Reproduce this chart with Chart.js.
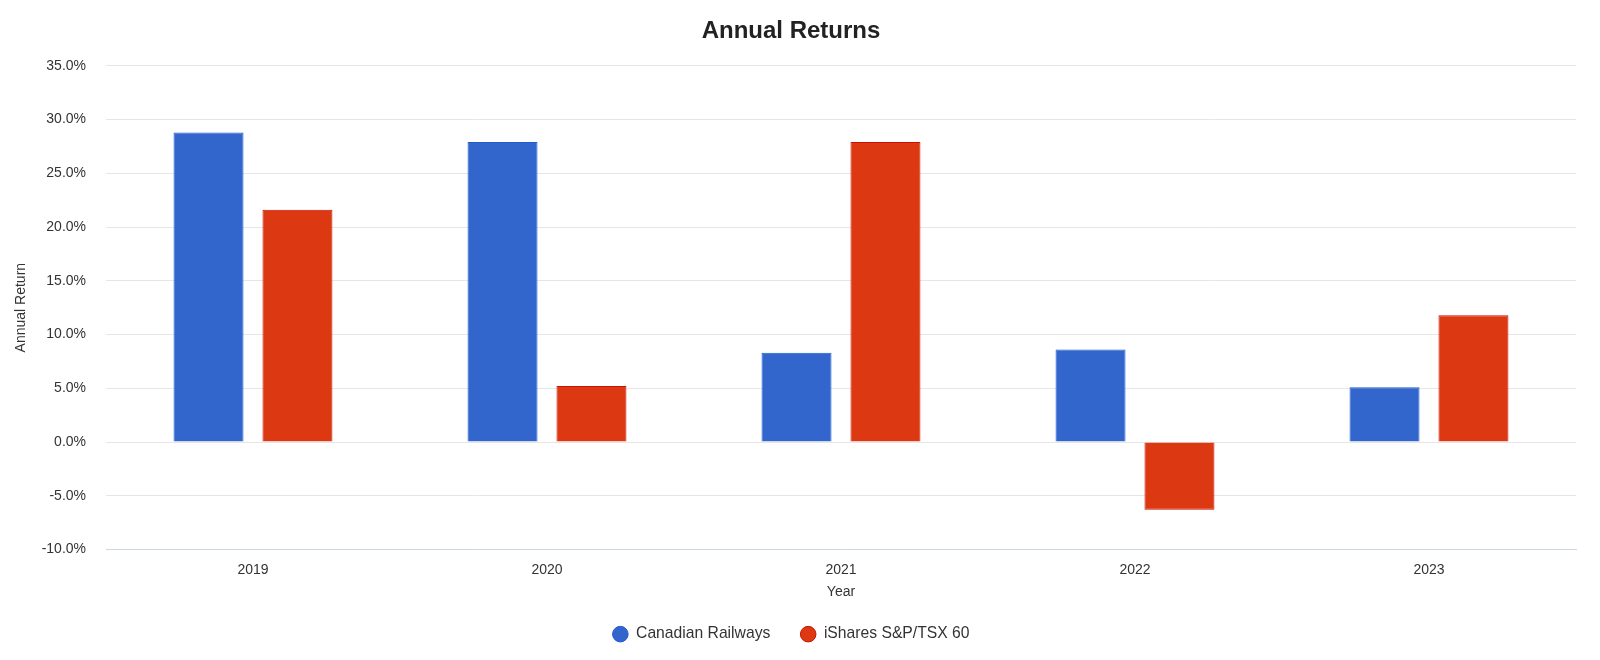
<!DOCTYPE html>
<html>
<head>
<meta charset="utf-8">
<script src="https://cdn.jsdelivr.net/npm/chart.js@4"></script>
<style>
  html, body { margin: 0; padding: 0; background: #fff; }
  #wrap { width: 1600px; height: 660px; }
</style>
</head>
<body>
<div id="wrap"><canvas id="c" width="1600" height="660"></canvas></div>
<script>
const years = ['2019', '2020', '2021', '2022', '2023'];
const canadianRailways = [28.8, 27.9, 8.3, 8.6, 5.1];
const isharesTsx60 = [21.6, 5.2, 27.9, -6.3, 11.8];
const seriesNames = ['Canadian Railways', 'iShares S&P/TSX 60'];
const yMin = -10, yMax = 35, yStep = 5;

const FONT = "'Liberation Sans', Arial, sans-serif";

new Chart(document.getElementById('c'), {
  type: 'bar',
  data: {
    labels: years,
    datasets: [
      {
        label: seriesNames[0],
        data: canadianRailways,
        backgroundColor: '#3366cc',
        borderColor: '#1e5bd0',
        borderWidth: 1,
        categoryPercentage: 0.605,
        barPercentage: 0.787
      },
      {
        label: seriesNames[1],
        data: isharesTsx60,
        backgroundColor: '#dc3912',
        borderColor: '#cc1100',
        borderWidth: 1,
        categoryPercentage: 0.605,
        barPercentage: 0.787
      }
    ]
  },
  options: {
    responsive: false,
    animation: false,
    devicePixelRatio: 1,
    layout: { padding: { left: 6, right: 24, top: 0, bottom: 8 } },
    plugins: {
      title: {
        display: true,
        text: 'Annual Returns',
        color: '#222',
        font: { family: FONT, size: 24, weight: 'bold' },
        padding: { top: 17, bottom: 20 }
      },
      legend: {
        position: 'bottom',
        labels: {
          usePointStyle: true,
          pointStyle: 'circle',
          boxWidth: 16,
          boxHeight: 11,
          padding: 30,
          color: '#333',
          font: { family: FONT, size: 15.7 }
        }
      },
      tooltip: { enabled: false }
    },
    scales: {
      x: {
        grid: { display: false, drawTicks: false },
        border: { display: true, color: '#ccd6eb', width: 1 },
        ticks: { color: '#333', font: { family: FONT, size: 14, lineHeight: 1 }, padding: 14 },
        title: {
          display: true, text: 'Year', color: '#333',
          font: { family: FONT, size: 14 }, padding: { top: -8, bottom: -4 }
        }
      },
      y: {
        min: yMin, max: yMax,
        ticks: {
          stepSize: yStep,
          color: '#333',
          font: { family: FONT, size: 14 },
          padding: 20,
          callback: v => v.toFixed(1) + '%'
        },
        grid: { color: '#e6e6e6', lineWidth: 1, drawTicks: false },
        border: { display: false },
        title: {
          display: true, text: 'Annual Return', color: '#333',
          font: { family: FONT, size: 14 }, padding: { top: 7, bottom: 4 }
        },
        afterFit: s => { s.width = 100; }
      }
    }
  }
});
</script>
</body>
</html>
